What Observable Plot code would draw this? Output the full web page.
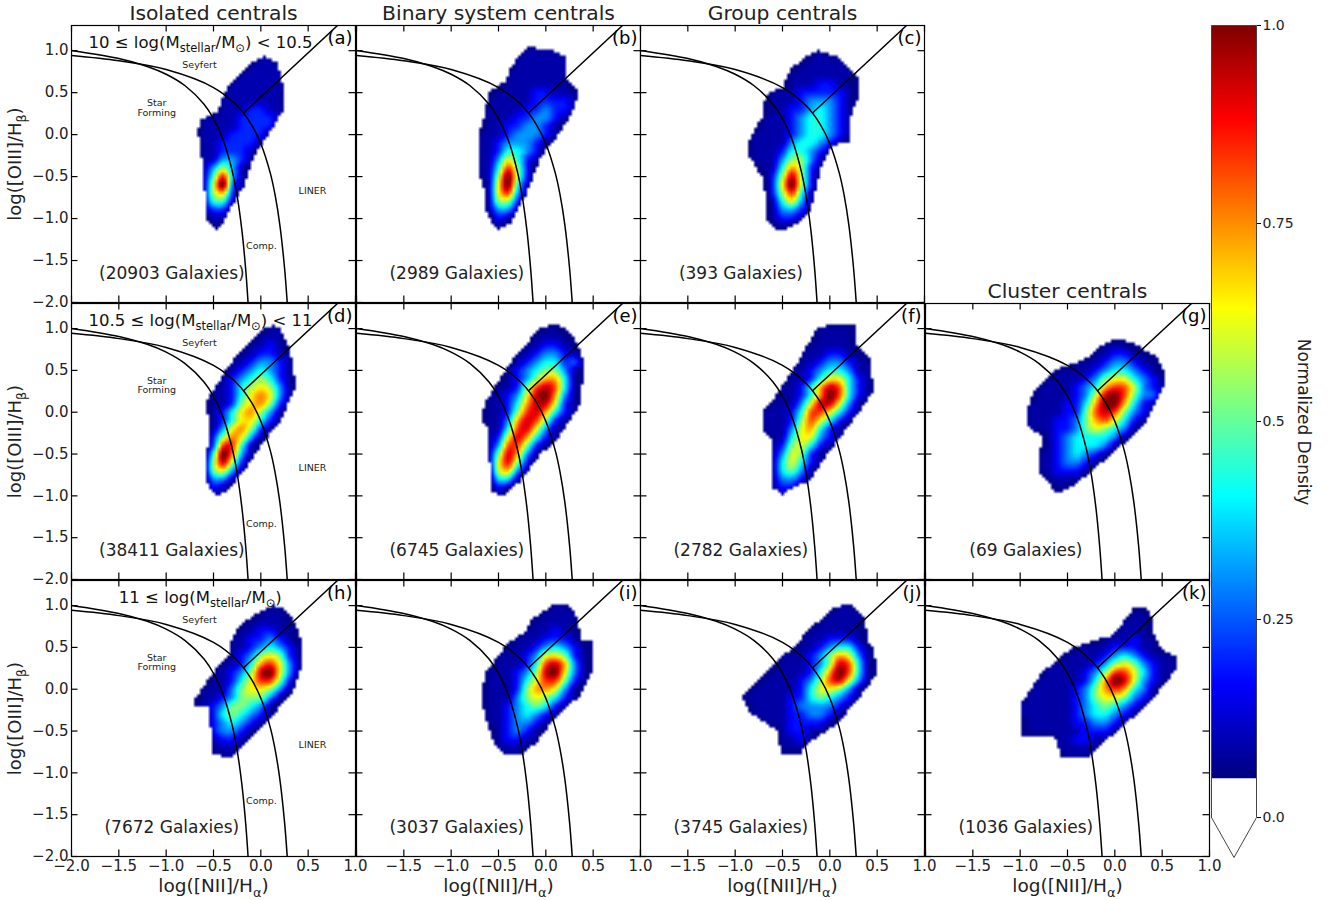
<!DOCTYPE html>
<html>
<head>
<meta charset="utf-8">
<script src="https://cdn.jsdelivr.net/npm/d3@7"></script>
<script src="https://cdn.jsdelivr.net/npm/@observablehq/plot@0.6"></script>
<style>
html,body{margin:0;padding:0;background:#fff;}
#fig{position:relative;width:1338px;height:900px;overflow:hidden;font-family:"DejaVu Sans";}
#fig svg{position:absolute;max-width:none;}
</style>
</head>
<body>
<div id="fig"></div>
<script>
// Density: [log OIII/Hb, first column, level per column].
// Column c sits at log NII/Ha = -1.1 + 0.1 c; "a" is the peak level.
const densityA = [[.9,11,"11"],[.8,10,"1111"],[.7,9,"11111"],[.6,8,"111111"],[.5,7,"1111111"],[.4,7,"1111111"],[.3,7,"1112211"],[.2,5,"111122221"],[.1,5,"11112222"],[0,5,"1112222"],[-.1,5,"1122221"],[-.2,5,"112221"],[-.3,5,"113321"],[-.4,5,"13531"],[-.5,5,"14831"],[-.6,5,"15a21"],[-.7,5,"15621"],[-.8,5,"1441"],[-.9,5,"122"],[-1,6,"11"],[-1.1,6,"1"]];
const densityB = [[1,9,"1111"],[.9,8,"111111"],[.8,8,"111111"],[.7,7,"1111111"],[.6,7,"1111111"],[.5,6,"111122111"],[.4,5,"1111122221"],[.3,5,"1111223221"],[.2,5,"111223321"],[.1,5,"11223321"],[0,4,"111233321"],[-.1,4,"11233321"],[-.2,4,"1124432"],[-.3,4,"1136421"],[-.4,4,"114852"],[-.5,4,"115a52"],[-.6,5,"16a41"],[-.7,5,"16831"],[-.8,5,"1552"],[-.9,5,"1331"],[-1,6,"21"],[-1.1,6,"1"]];
const densityC = [[1,10,"1"],[.9,9,"1111"],[.8,8,"111111"],[.7,7,"1111111"],[.6,7,"1112211"],[.5,5,"111222221"],[.4,5,"111233321"],[.3,5,"112234321"],[.2,4,"1112344321"],[.1,4,"1112344321"],[0,3,"11112344321"],[-.1,3,"1111344321"],[-.2,3,"111244321"],[-.3,3,"11135531"],[-.4,4,"1147521"],[-.5,5,"25952"],[-.6,5,"26a52"],[-.7,5,"25841"],[-.8,5,"14631"],[-.9,5,"13321"],[-1,5,"1221"],[-1.1,6,"1"]];
const densityD = [[1,12,"11"],[.9,11,"111"],[.8,10,"1121"],[.7,9,"112211"],[.6,8,"1123321"],[.5,8,"1234321"],[.4,7,"12345421"],[.3,6,"112456531"],[.2,6,"112467631"],[.1,6,"112567521"],[0,6,"12467531"],[-.1,6,"12466421"],[-.2,6,"1367521"],[-.3,6,"257631"],[-.4,6,"28841"],[-.5,6,"4a731"],[-.6,6,"5952"],[-.7,6,"5631"],[-.8,6,"331"],[-.9,6,"21"],[-1,6,"11"]];
const densityE = [[1,11,"11"],[.9,10,"1111"],[.8,9,"112211"],[.7,8,"1123321"],[.6,8,"12344231"],[.5,7,"12345531"],[.4,7,"12357741"],[.3,6,"112589841"],[.2,5,"112369a731"],[.1,5,"1124799621"],[0,5,"1125897421"],[-.1,5,"113798521"],[-.2,5,"114896311"],[-.3,5,"12697421"],[-.4,5,"1388521"],[-.5,5,"159731"],[-.6,5,"16952"],[-.7,6,"6731"],[-.8,6,"441"],[-.9,6,"21"],[-1,6,"1"]];
const densityF = [[1,10,"1111"],[.9,10,"1111"],[.8,9,"11111"],[.7,8,"1112211"],[.6,8,"11233211"],[.5,7,"112344311"],[.4,7,"112466421"],[.3,6,"1124798421"],[.2,6,"11247a8421"],[.1,5,"1113699631"],[0,4,"11124886421"],[-.1,4,"1112586421"],[-.2,4,"111367421"],[-.3,5,"11466321"],[-.4,5,"1256421"],[-.5,5,"136521"],[-.6,5,"146421"],[-.7,5,"14531"],[-.8,5,"13321"],[-.9,5,"122"],[-1,6,"1"]];
const densityG = [[.8,10,"111"],[.7,9,"112211"],[.6,7,"111233211"],[.5,5,"11112344321"],[.4,4,"1111235664321"],[.3,3,"11112347886321"],[.2,3,"11112369a85331"],[.1,2,"11112247aa7421"],[0,2,"11112258985321"],[-.1,2,"1112235786421"],[-.2,2,"111223565431"],[-.3,4,"123444431"],[-.4,4,"12344431"],[-.5,3,"11234321"],[-.6,3,"1123321"],[-.7,3,"112221"],[-.8,4,"1111"],[-.9,5,"11"]];
const densityH = [[1,12,"11"],[.9,11,"111"],[.8,10,"11111"],[.7,9,"112211"],[.6,8,"1122321"],[.5,8,"11234321"],[.4,8,"12356521"],[.3,7,"112478631"],[.2,6,"112359a631"],[.1,6,"112468852"],[0,5,"1113566531"],[-.1,5,"112355531"],[-.2,4,"112355431"],[-.3,6,"2454321"],[-.4,6,"234321"],[-.5,6,"23321"],[-.6,6,"1221"],[-.7,6,"1111"],[-.8,7,"11"]];
const densityI = [[1,12,"11"],[.9,11,"1111"],[.8,10,"11111"],[.7,9,"111211"],[.6,8,"1112221"],[.5,7,"111234321"],[.4,6,"1112366521"],[.3,6,"1112489731"],[.2,5,"1112359a631"],[.1,5,"11124688521"],[0,5,"1112577631"],[-.1,5,"1113565421"],[-.2,5,"112345421"],[-.3,5,"11234321"],[-.4,5,"1123321"],[-.5,6,"12321"],[-.6,6,"12211"],[-.7,6,"1111"],[-.8,7,"11"]];
const densityJ = [[1,12,"11"],[.9,11,"1111"],[.8,10,"11111"],[.7,9,"111111"],[.6,8,"1112221"],[.5,8,"11234421"],[.4,6,"1112357631"],[.3,6,"1112359841"],[.2,5,"1111247a841"],[.1,4,"111123589631"],[0,3,"111112466531"],[-.1,2,"1111122454321"],[-.2,3,"11112333321"],[-.3,3,"1111223321"],[-.4,4,"11122221"],[-.5,6,"12211"],[-.6,6,"1121"],[-.7,6,"111"]];
const densityK = [[.9,13,"11"],[.8,12,"111"],[.7,11,"1111"],[.6,10,"111211"],[.5,7,"111122211"],[.4,6,"111123432111"],[.3,4,"11111235653211"],[.2,4,"11112358864211"],[.1,3,"11111247a96321"],[0,2,"11111235787431"],[-.1,2,"11111235665321"],[-.2,1,"11111123454321"],[-.3,1,"1111112344321"],[-.4,2,"11111223321"],[-.5,2,"1111112221"],[-.6,5,"112211"],[-.7,5,"11111"],[-.8,6,"111"]];

// Edge of each coloured region: [log NII/Ha, log OIII/Hb]
const outlineA = [[.03,.93],[.17,.86],[.24,.58],[.26,.48],[.24,.3],[.07,-.02],[-.07,-.26],[-.18,-.62],[-.39,-1.02],[-.46,-1.16],[-.57,-1.02],[-.6,-.62],[-.64,-.1],[-.67,.02],[-.64,.18],[-.46,.26],[-.39,.5],[-.25,.7],[-.11,.86]];
const outlineB = [[-.16,1.04],[.07,1],[.22,.92],[.22,.66],[.35,.52],[.3,.3],[.12,-.02],[-.06,-.28],[-.2,-.7],[-.37,-1.05],[-.5,-1.13],[-.62,-.98],[-.65,-.66],[-.72,-.46],[-.72,-.02],[-.65,.22],[-.6,.5],[-.43,.64],[-.36,.82],[-.23,1.02]];
const outlineC = [[-.13,1],[.1,.92],[.29,.7],[.29,.42],[.22,.22],[.22,-.08],[.02,-.14],[-.1,-.42],[-.2,-.9],[-.31,-1.04],[-.52,-1.16],[-.66,-1.04],[-.7,-.54],[-.86,-.24],[-.86,-.08],[-.71,.22],[-.68,.48],[-.5,.56],[-.42,.78],[-.24,.94]];
const outlineD = [[.14,1.04],[.2,1],[.31,.76],[.33,.55],[.38,.32],[.2,-.12],[.03,-.35],[-.11,-.6],[-.32,-.9],[-.46,-1.02],[-.58,-.83],[-.55,-.12],[-.58,.12],[-.36,.52],[-.18,.78],[0,.98]];
const outlineE = [[-.06,1],[.08,1.06],[.19,1.02],[.31,.88],[.4,.6],[.37,.12],[.33,.04],[.12,-.32],[-.06,-.51],[-.27,-.83],[-.46,-1],[-.58,-.95],[-.6,-.47],[-.62,-.2],[-.68,-.08],[-.65,.1],[-.51,.36],[-.37,.6],[-.16,.88]];
const outlineF = [[-.12,1.02],[.11,1.06],[.27,1.06],[.27,.82],[.43,.64],[.46,.24],[.18,-.2],[.04,-.4],[-.22,-.83],[-.38,-.89],[-.5,-.98],[-.61,-.91],[-.61,-.55],[-.63,-.28],[-.71,-.24],[-.71,0],[-.52,.28],[-.38,.52],[-.24,.8]];
const outlineG = [[.02,.88],[.2,.82],[.45,.66],[.53,.45],[.54,.34],[.31,-.14],[.1,-.37],[-.19,-.65],[-.4,-.85],[-.61,-.97],[-.8,-.73],[-.8,-.49],[-.75,-.3],[-.91,-.18],[-.94,.02],[-.84,.28],[-.64,.5],[-.26,.66],[-.15,.8]];
const outlineH = [[.12,1],[.23,.98],[.33,.87],[.44,.55],[.44,.31],[.33,-.05],[.08,-.37],[-.2,-.69],[-.34,-.83],[-.51,-.77],[-.55,-.21],[-.71,-.21],[-.71,-.13],[-.48,.23],[-.32,.45],[-.32,.57],[-.23,.75],[-.06,.9]];
const outlineI = [[.1,1.02],[.21,1.02],[.31,.92],[.38,.59],[.49,.57],[.49,.23],[.35,-.09],[.14,-.29],[-.11,-.65],[-.25,-.77],[-.43,-.8],[-.55,-.65],[-.62,-.41],[-.69,-.09],[-.64,.19],[-.48,.43],[-.41,.55],[-.23,.67],[-.16,.83]];
const outlineJ = [[.15,1.02],[.2,1.02],[.38,.85],[.39,.59],[.46,.51],[.5,.19],[.32,-.09],[.08,-.41],[-.24,-.65],[-.31,-.77],[-.52,-.77],[-.56,-.49],[-.84,-.29],[-.93,-.09],[-.54,.35],[-.38,.51],[-.24,.69],[.01,.95]];
const outlineK = [[.18,.96],[.34,.96],[.39,.85],[.41,.65],[.5,.47],[.64,.39],[.64,.23],[.41,-.11],[.1,-.43],[-.15,-.67],[-.27,-.81],[-.57,-.81],[-.63,-.57],[-.98,-.57],[-1,-.19],[-.79,.17],[-.56,.41],[-.42,.51],[-.01,.65],[.17,.93]];

// What each density level stands for
const levels = [0,.08,.17,.28,.39,.5,.6,.7,.8,.9,1];

// Diagnostic curves
const kauffmannX = [-2,-1.5,-1.2,-1,-.8,-.6,-.5,-.4,-.3,-.25,-.2,-.16,-.135];
const kauffmannY = [1.002,.906,.812,.719,.582,.362,.191,-.056,-.443,-.733,-1.14,-1.605,-1.997];
const kewleyX = [-2,-1.5,-1,-.5,-.25,-.1,0,.1,.15,.2,.25,.279];
const kewleyY = [.943,.88,.775,.561,.343,.12,-.108,-.459,-.716,-1.069,-1.583,-2.004];
const dividerX = [-.18,.81];
const dividerY = [.26,1.3];

const xTicks = [-2,-1.5,-1,-.5,0,.5,1];
const yTicks = [-2,-1.5,-1,-.5,0,.5,1];
const barTicks = [0,.25,.5,.75,1];
const barLabels = ["0.0","0.25","0.5","0.75","1.0"];

const letters = ["(a)","(b)","(c)","(d)","(e)","(f)","(g)","(h)","(i)","(j)","(k)"];
const counts = ["(20903 Galaxies)","(2989 Galaxies)","(393 Galaxies)","(38411 Galaxies)","(6745 Galaxies)","(2782 Galaxies)","(69 Galaxies)","(7672 Galaxies)","(3037 Galaxies)","(3745 Galaxies)","(1036 Galaxies)"];
const grids = [densityA,densityB,densityC,densityD,densityE,densityF,densityG,densityH,densityI,densityJ,densityK];
const outlines = [outlineA,outlineB,outlineC,outlineD,outlineE,outlineF,outlineG,outlineH,outlineI,outlineJ,outlineK];
const panelCols = [0,1,2,0,1,2,3,0,1,2,3];
const panelRows = [0,0,0,1,1,1,1,2,2,2,2];
const titles = {0:"Isolated centrals",1:"Binary system centrals",2:"Group centrals",6:"Cluster centrals"};
const massLabels = {0:"10 ≤ log(M_{stellar}/M_{⊙}) < 10.5",3:"10.5 ≤ log(M_{stellar}/M_{⊙}) < 11",7:"11 ≤ log(M_{stellar}/M_{⊙})"};
const massX = {0:-1.82,3:-1.82,7:-1.5};
const regionNames = ["Seyfert","Star\nForming","LINER","Comp."];
const regionX = [-.648,-1.1,.546,.007];
const regionY = [.825,.32,-.67,-1.33];

const colLefts = [71,356,640,925];
const rowTops = [25,303,580];
const rowHeights = [277,276,276];
const panelWidth = 284;
const M = {left:71,right:10,top:30,bottom:46};

function jet(t){
  const c = v => Math.round(255*Math.max(0,Math.min(1,v)));
  return `rgb(${c(1.5-Math.abs(4*t-3))},${c(1.5-Math.abs(4*t-2))},${c(1.5-Math.abs(4*t-1))})`;
}
const densityColor = t => t < .05 ? "#fff" : jet((t-.05)/.95);

function toGrid(rows){
  const g = d3.range(26).map(()=>new Float64Array(20));
  for (const [y,c0,s] of rows){
    const r = Math.round((1.2-y)/.1);
    [...s].forEach((ch,i)=>{ g[r][c0+i] = levels[parseInt(ch,16)]; });
  }
  // light smoothing of the reading steps, renormalised to a peak of 1
  const at=(r,c)=>(r<0||r>=26||c<0||c>=20)?0:g[r][c];
  const out = g.map((row,r)=>Float64Array.from(row,(v,c)=>.68*v+.08*(at(r-1,c)+at(r+1,c)+at(r,c-1)+at(r,c+1))));
  const mx = d3.max(out,row=>d3.max(row));
  return out.map(row=>row.map(v=>v/mx));
}
function cr(p0,p1,p2,p3,t){
  return .5*((2*p1)+(-p0+p2)*t+(2*p0-5*p1+4*p2-p3)*t*t+(-p0+3*p1-3*p2+p3)*t*t*t);
}
function sampler(g,outline){
  const at=(r,c)=>(r<0||r>=26||c<0||c>=20)?0:g[r][c];
  return (x,y)=>{
    if (!d3.polygonContains(outline,[x,y])) return 0;
    const u=(x+1.1)/.1, v=(1.2-y)/.1;
    const c=Math.floor(u), r=Math.floor(v), tu=u-c, tv=v-r;
    const row=k=>cr(at(r+k,c-1),at(r+k,c),at(r+k,c+1),at(r+k,c+2),tu);
    return Math.min(1,Math.max(.06,cr(row(-1),row(0),row(1),row(2),tv)));
  };
}
function applySubscripts(svg){
  for (const el of svg.querySelectorAll("text")){
    const s = el.textContent;
    if (!s.includes("_{")) continue;
    el.textContent = "";
    const parts = s.split(/(_\{[^}]*\})/).filter(Boolean);
    let lowered = false;
    for (const p of parts){
      const t = document.createElementNS("http://www.w3.org/2000/svg","tspan");
      if (p.startsWith("_{")){
        t.textContent = p.slice(2,-1);
        t.setAttribute("font-size","70%");
        t.setAttribute("dy","0.35em");
        lowered = true;
      } else {
        t.textContent = p;
        if (lowered) t.setAttribute("dy","-0.245em");
        lowered = false;
      }
      el.appendChild(t);
    }
  }
}
const fmt = d3.format(".1f");
const fig = document.getElementById("fig");
const kauffmann = kauffmannX.map((x,i)=>({x,y:kauffmannY[i]}));
const kewley = kewleyX.map((x,i)=>({x,y:kewleyY[i]}));
const divider = dividerX.map((x,i)=>({x,y:dividerY[i]}));

grids.forEach((rows,i)=>{
  const col=panelCols[i], row=panelRows[i];
  const f=sampler(toGrid(rows),outlines[i]);
  const tx=6.5/94.67, ty=6.5/83.8;
  const marks=[
    Plot.raster({x1:-2,x2:1,y1:-2,y2:1.3,pixelSize:3,fill:f}),
    Plot.line(kauffmann,{x:"x",y:"y",stroke:"#000",strokeWidth:1.5,curve:"catmull-rom",clip:true}),
    Plot.line(kewley,{x:"x",y:"y",stroke:"#000",strokeWidth:1.5,curve:"catmull-rom",clip:true}),
    Plot.line(divider,{x:"x",y:"y",stroke:"#000",strokeWidth:1.5,clip:true}),
    Plot.ruleX(xTicks,{x:d=>d,y1:-2,y2:-2+ty,stroke:"#000",strokeWidth:1.2}),
    Plot.ruleX(xTicks,{x:d=>d,y1:1.3-ty,y2:1.3,stroke:"#000",strokeWidth:1.2}),
    Plot.ruleY(yTicks,{y:d=>d,x1:-2,x2:-2+tx,stroke:"#000",strokeWidth:1.2}),
    Plot.ruleY(yTicks,{y:d=>d,x1:1-tx,x2:1,stroke:"#000",strokeWidth:1.2}),
    Plot.frame({stroke:"#000",strokeWidth:1.2}),
    Plot.text([letters[i]],{frameAnchor:"top-right",dx:-3,dy:13,text:d=>d,fontSize:18,lineAnchor:"middle",fill:"#000"}),
    Plot.text([counts[i]],{x:-.94,y:-1.65,text:d=>d,fontSize:17,fill:"#222"})
  ];
  if (row===2){
    marks.push(Plot.axisX(col===0?xTicks:xTicks.slice(1),{anchor:"bottom",tickSize:0,tickPadding:4,tickFormat:fmt,fontSize:15,label:null,fill:"#222"}));
    marks.push(Plot.text(["log([NII]/H_{α})"],{frameAnchor:"bottom",dy:30,lineAnchor:"middle",textAnchor:"middle",text:d=>d,fontSize:18.5,fill:"#222"}));
  }
  if (col===0){
    marks.push(Plot.axisY(yTicks,{anchor:"left",tickSize:0,tickPadding:3,tickFormat:fmt,fontSize:15,label:null,fill:"#222"}));
    marks.push(Plot.text(["log([OIII]/H_{β})"],{frameAnchor:"left",dx:-56,lineAnchor:"middle",textAnchor:"middle",text:d=>d,fontSize:18,rotate:-90,fill:"#222"}));
    marks.push(Plot.text(regionNames,{x:(d,j)=>regionX[j],y:(d,j)=>regionY[j],text:d=>d,fontSize:9.5,fill:"#222"}));
  }
  if (titles[i]) marks.push(Plot.text([titles[i]],{frameAnchor:"top",dy:-12,lineAnchor:"middle",text:d=>d,fontSize:20.3,fill:"#222"}));
  if (massLabels[i]) marks.push(Plot.text([massLabels[i]],{x:massX[i],y:1.09,text:d=>d,textAnchor:"start",fontSize:16.5,fill:"#111"}));

  const h=rowHeights[row];
  const svg=Plot.plot({
    width:panelWidth+M.left+M.right, height:h+M.top+M.bottom,
    marginLeft:M.left,marginRight:M.right,marginTop:M.top,marginBottom:M.bottom,
    style:{background:"transparent",overflow:"visible",fontFamily:"DejaVu Sans"},
    x:{domain:[-2,1],axis:null},
    y:{domain:[-2,1.3],axis:null},
    color:{type:"linear",domain:[0,1],interpolate:densityColor},
    marks
  });
  applySubscripts(svg);
  svg.style.left=(colLefts[col]-M.left)+"px";
  svg.style.top=(rowTops[row]-M.top)+"px";
  fig.appendChild(svg);
});

// Colour bar
const barOutline=[{x:0,y:0},{x:0,y:1},{x:1,y:1},{x:1,y:0},{x:.5,y:-.0505},{x:0,y:0}];
const bar=Plot.plot({
  width:45+120,height:832+10,
  marginLeft:0,marginRight:120,marginTop:5,marginBottom:5,
  style:{background:"transparent",overflow:"visible",fontFamily:"DejaVu Sans"},
  x:{domain:[0,1],axis:null},
  y:{domain:[-.0505,1],axis:null},
  color:{type:"linear",domain:[0,1],interpolate:densityColor},
  marks:[
    Plot.raster({x1:0,x2:1,y1:.047,y2:1,pixelSize:1,fill:(x,y)=>y}),
    Plot.line(barOutline,{x:"x",y:"y",stroke:"#444",strokeWidth:1}),
    Plot.axisY(barTicks,{anchor:"right",tickSize:4,tickPadding:2,tickFormat:d=>barLabels[barTicks.indexOf(d)],fontSize:14,label:null,fill:"#222"}),
    Plot.text(["Normalized Density"],{frameAnchor:"right",dx:47,dy:-19.5,lineAnchor:"middle",textAnchor:"middle",text:d=>d,rotate:90,fontSize:17,fill:"#222"})
  ]
});
bar.style.left="1211px";
bar.style.top="20px";
fig.appendChild(bar);
</script>
</body>
</html>
